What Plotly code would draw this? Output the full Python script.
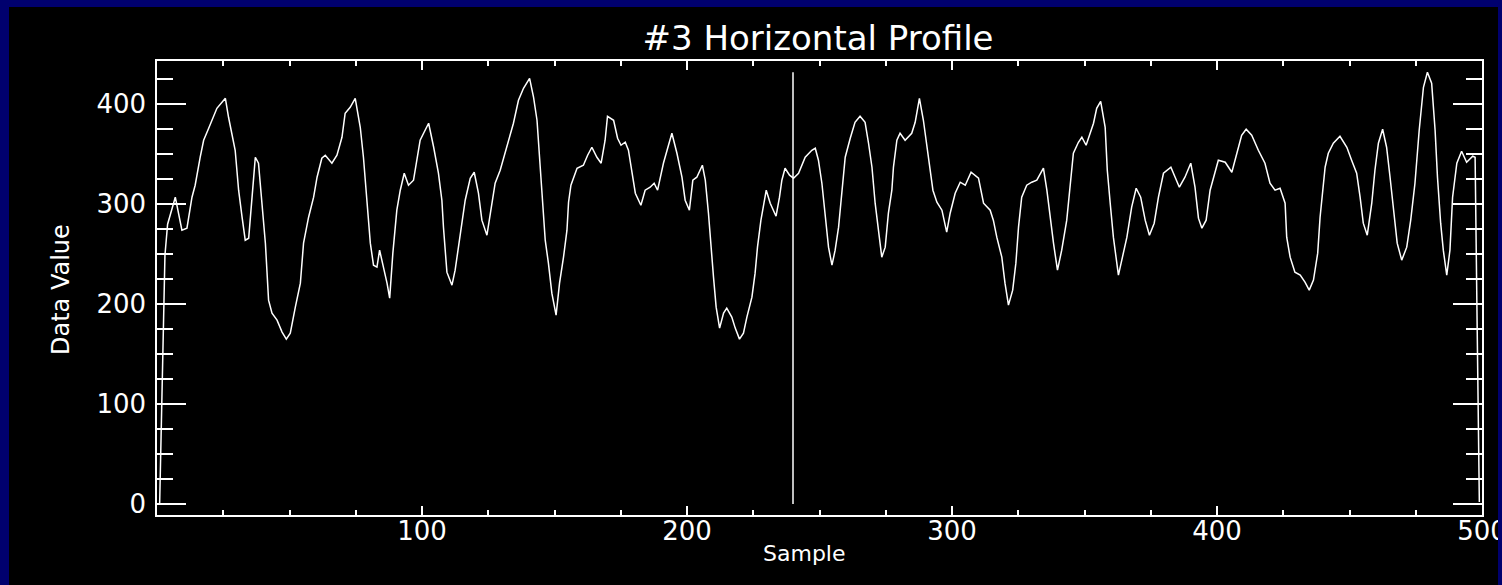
import plotly.graph_objects as go

# ---- data ----
sample = [1, 2, 3, 4, 6.9, 9.4, 11.3, 13.2, 14.4, 16.3, 17.6, 19.5, 22.6, 25.8, 27.0, 29.5, 30.8, 32.1, 33.3, 34.6,
          35.8, 37.1, 38.3, 39.6, 40.9, 42.1, 43.4, 45.3, 47.2, 48.8, 50.3, 52.2, 54.1, 55.3, 57.2, 59.1, 60.4, 62.2,
          63.5, 66.0, 67.9, 69.8, 71.0, 72.9, 74.8, 76.7, 77.9, 79.2, 80.5, 81.7, 83.0, 84.0, 85.5, 86.8, 87.8, 89.0,
          90.5, 91.8, 93.3, 94.9, 96.8, 98.1, 99.3, 100.6, 102.5, 104.4, 106.2, 107.5, 108.1, 109.4, 111.3, 112.5,
          114.4, 116.3, 118.2, 119.7, 121.3, 122.6, 124.5, 126.4, 127.6, 129.5, 132.0, 134.5, 136.4, 138.3, 140.6,
          142.1, 143.4, 144.6, 145.6, 146.5, 147.7, 149.0, 150.6, 151.9, 153.4, 154.7, 155.3, 156.2, 158.5, 160.9,
          162.5, 164.1, 166.0, 167.6, 169.1, 170.0, 172.3, 173.8, 175.1, 176.7, 177.9, 179.2, 180.5, 182.6, 184.2,
          186.1, 187.6, 188.9, 191.1, 192.8, 194.3, 196.2, 198.1, 199.3, 200.9, 202.2, 203.7, 205.8, 206.9, 208.1,
          209.0, 210.0, 211.0, 212.3, 213.8, 215.0, 216.9, 218.2, 219.8, 221.3, 222.6, 224.5, 225.7, 226.6, 227.9,
          228.9, 229.9, 231.4, 233.6, 234.9, 235.8, 237.0, 238.7, 240.2, 242.1, 244.6, 247.1, 248.4, 249.6, 250.9,
          252.1, 253.4, 254.7, 255.9, 257.2, 258.4, 259.7, 261.6, 263.4, 265.3, 267.2, 268.5, 269.8, 271.0, 272.3,
          273.5, 274.8, 276.0, 277.3, 277.9, 279.2, 280.4, 282.3, 284.8, 286.1, 287.7, 289.2, 290.7, 291.7, 292.8,
          294.3, 296.2, 298.0, 299.3, 301.2, 303.1, 305.0, 307.2, 310.0, 311.9, 314.4, 315.6, 316.9, 318.8, 320.0,
          321.3, 322.9, 324.1, 325.1, 326.3, 328.2, 330.1, 332.0, 334.5, 335.8, 337.0, 338.3, 339.8, 341.4, 343.3,
          344.6, 345.8, 347.7, 349.0, 350.6, 352.1, 353.4, 354.6, 356.1, 357.8, 358.6, 359.7, 360.9, 362.8, 364.1,
          366.0, 367.8, 369.5, 371.2, 372.9, 374.5, 376.3, 377.9, 379.8, 382.6, 384.2, 385.8, 387.9, 390.1, 391.7,
          393.0, 394.3, 395.9, 397.4, 399.3, 400.5, 403.1, 405.6, 407.5, 409.3, 411.0, 413.1, 415.6, 418.1, 420.0,
          421.9, 423.8, 425.7, 426.3, 427.6, 429.4, 431.4, 433.2, 434.8, 436.4, 438.0, 438.9, 439.9, 440.8, 442.0,
          443.9, 446.4, 449.0, 450.8, 452.7, 454.0, 455.2, 456.7, 458.4, 459.6, 460.9, 462.5, 464.0, 465.3, 466.8,
          468.0, 469.7, 471.6, 473.1, 474.7, 476.3, 477.9, 479.4, 481.0, 482.3, 483.2, 484.4, 485.4, 486.7, 487.9,
          488.9, 490.5, 492.3, 494.2, 496.5, 497.4, 498.2, 499.0]

data_value = [0, 117, 249, 280, 307, 274, 276, 307, 319, 347, 364, 376, 396, 406, 387, 354, 314, 287, 264, 266,
              304, 347, 341, 301, 261, 204, 191, 184, 172, 165, 171, 197, 221, 261, 287, 307, 327, 346,
              349, 341, 349, 367, 391, 397, 406, 377, 347, 304, 261, 239, 237, 254, 237, 221, 206, 251,
              294, 314, 331, 319, 324, 347, 364, 371, 381, 357, 331, 304, 277, 232, 219, 234,
              271, 304, 326, 332, 311, 284, 269, 304, 321, 334, 357, 381, 404, 416, 426,
              407, 384, 337, 301, 264, 241, 211, 189, 221, 247, 274, 302, 319, 336, 339,
              349, 357, 347, 341, 364, 388, 384, 366, 359, 362, 354, 331, 311, 299, 314,
              317, 321, 314, 341, 357, 371, 351, 327, 304, 294, 324, 327, 339, 324, 291,
              257, 227, 197, 176, 191, 196, 187, 176, 165, 171, 187, 207, 231, 257, 284,
              301, 314, 301, 288, 307, 324, 336, 329, 326, 331, 347, 354, 356, 344, 321,
              291, 257, 239, 254, 277, 314, 347, 366, 382, 388, 382, 361, 337, 301, 274,
              247, 257, 291, 314, 337, 364, 371, 364, 371, 382, 406, 384, 357, 337, 314,
              302, 294, 272, 291, 311, 322, 319, 332, 326, 301, 294, 284, 267, 247, 221,
              199, 214, 241, 277, 307, 319, 322, 324, 336, 314, 287, 261, 234, 254, 284,
              321, 351, 362, 367, 359, 371, 381, 396, 403, 377, 334, 301, 267, 229, 244,
              267, 297, 316, 307, 284, 269, 281, 307, 331, 337, 326, 317, 327, 341, 317,
              286, 276, 284, 314, 334, 344, 342, 332, 351, 369, 375, 369, 354, 341, 321,
              314, 316, 301, 267, 247, 232, 229, 222, 214, 224, 251, 287, 314, 337, 351,
              361, 368, 357, 344, 331, 307, 281, 269, 301, 334, 361, 375, 357, 327, 287,
              261, 244, 257, 284, 321, 374, 417, 432, 421, 374, 327, 281, 254, 229, 254,
              307, 341, 353, 342, 348, 347, 172, 2]

cursor_sample = 240
x_tick_values = [100, 200, 300, 400, 500]
y_tick_values = [0, 100, 200, 300, 400]
x_minor_values = [25, 50, 75, 125, 150, 175, 225, 250, 275, 325, 350, 375, 425, 450, 475]
y_minor_values = [25, 50, 75, 125, 150, 175, 225, 250, 275, 325, 350, 375, 425]

title_text = "#3 Horizontal Profile"
x_title = "Sample"
y_title = "Data Value"

# ---- layout geometry (pixels) ----
W, H = 1502, 585
ML, MR, MT, MB = 157, 20, 61, 70
PW, PH = W - ML - MR, H - MT - MB
FONT = "DejaVu Sans"
NAVY = "#00006e"


def px(xp):
    return (xp - ML) / PW


def py(yp):
    return 1 - (yp - MT) / PH


fig = go.Figure()
fig.add_trace(go.Scatter(x=sample, y=data_value, mode="lines",
                         line=dict(color="white", width=1.5), showlegend=False, hoverinfo="x+y"))
fig.add_trace(go.Scatter(x=[cursor_sample, cursor_sample], y=[0, max(data_value)], mode="lines",
                         line=dict(color="white", width=1.5), showlegend=False, hoverinfo="skip"))

axis_common = dict(showline=True, linecolor="white", linewidth=1.5, mirror="allticks",
                   ticks="inside", tickcolor="white", tickwidth=1.5, showgrid=False, zeroline=False,
                   tickfont=dict(family=FONT, size=26, color="white"), tickmode="array",
                   ticklabeloverflow="allow", automargin=False)

fig.update_xaxes(range=[0, 500], tickvals=x_tick_values, ticklen=9, ticklabelstandoff=-8,
                 minor=dict(tickvals=x_minor_values, ticks="inside", ticklen=5, tickcolor="white", tickwidth=1.5),
                 **axis_common)
fig.update_yaxes(range=[-11, 443.3], tickvals=y_tick_values, ticklen=29, ticklabelstandoff=4,
                 minor=dict(tickvals=y_minor_values, ticks="inside", ticklen=16, tickcolor="white", tickwidth=1.5),
                 **axis_common)

shapes = []
for (x0, y0, x1, y1) in [(0, 0, W, 7), (0, 0, 9, H), (1498, 0, W, H)]:
    shapes.append(dict(type="rect", xref="paper", yref="paper", x0=px(x0), x1=px(x1), y0=py(y1), y1=py(y0),
                       fillcolor=NAVY, line=dict(width=0), layer="above"))

annotations = [
    dict(text=y_title, xref="paper", yref="paper", x=px(61), y=py(290), showarrow=False, textangle=-90,
         xanchor="center", yanchor="middle", font=dict(family=FONT, size=24, color="white")),
    dict(text=x_title, xref="paper", yref="paper", x=px(804), y=py(553), showarrow=False,
         xanchor="center", yanchor="middle", font=dict(family=FONT, size=22, color="white")),
]

fig.update_layout(
    width=W, height=H,
    margin=dict(l=ML, r=MR, t=MT, b=MB, pad=0, autoexpand=False),
    paper_bgcolor="black", plot_bgcolor="black",
    title=dict(text=title_text, x=818 / W, xanchor="center", y=1 - 38 / H, yanchor="middle",
               font=dict(family=FONT, size=34, color="white")),
    shapes=shapes, annotations=annotations,
    font=dict(family=FONT, color="white"),
)

fig.write_html("out.html")
